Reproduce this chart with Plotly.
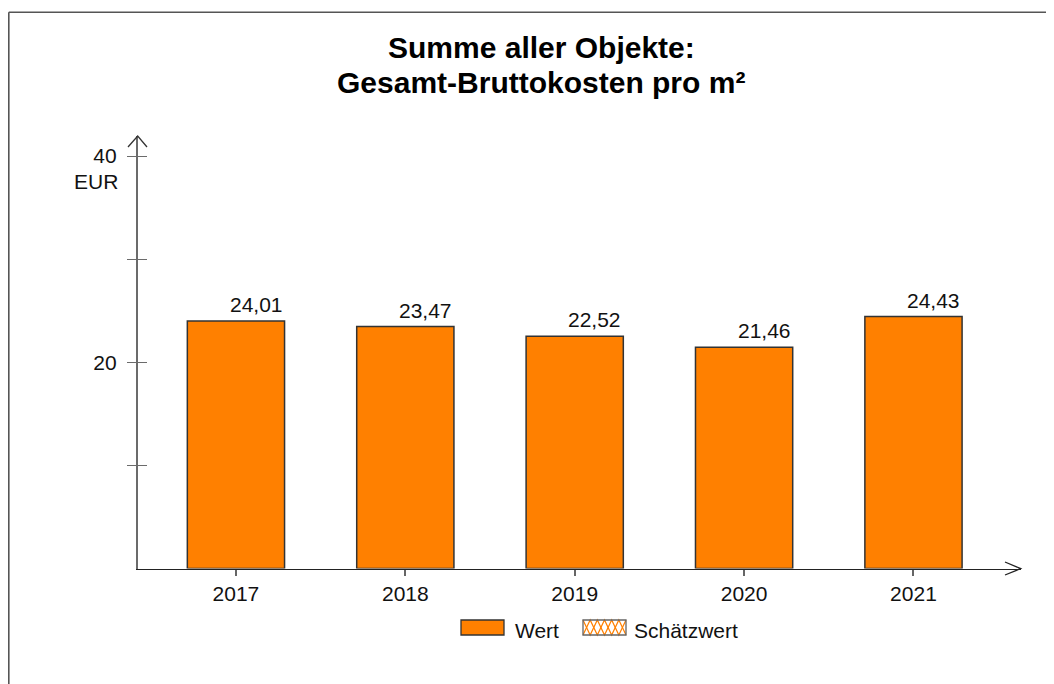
import plotly.graph_objects as go

# ---- data ----
years = ["2017", "2018", "2019", "2020", "2021"]
values = [24.01, 23.47, 22.52, 21.46, 24.43]
y_tickvals = [10, 20, 30, 40]
y_ticktext = ["", "20", "", "40"]
title_lines = ["Summe aller Objekte:", "Gesamt-Bruttokosten pro m²"]
unit_label = "EUR"
legend_labels = ["Wert", "Schätzwert"]

# the page body has an 8px default margin; work in window pixel coordinates
OFF = 8
W, H = 1054 - OFF, 684 - OFF
FONT = "Liberation Sans, Arial, sans-serif"
ORANGE = "#FF8000"
BAR_W = 0.574
FS = 21

def px(x):
    return (x - OFF) / W

def py(y):
    return 1 - (y - OFF) / H

fig = go.Figure()
fig.add_trace(go.Bar(
    x=years, y=values, width=BAR_W,
    marker=dict(color=ORANGE, line=dict(color="#333333", width=1.5)),
    showlegend=False, hoverinfo="x+y",
))

# value labels, right-aligned to the bar's right edge
for i, v in enumerate(values):
    fig.add_annotation(
        x=i + BAR_W / 2, y=v, xref="x", yref="y",
        text=f"{v:.2f}".replace(".", ","),
        showarrow=False, xanchor="right", yanchor="bottom", yshift=3,
        font=dict(family=FONT, size=FS, color="#111111"),
    )

x_dom = [px(137.7), px(1020.7)]
y_dom = [py(568.6), py(136)]
y_range = [0, 41.94]

fig.update_layout(
    width=W, height=H,
    margin=dict(l=0, r=0, t=0, b=0),
    paper_bgcolor="white", plot_bgcolor="white",
    font=dict(family=FONT, size=FS, color="#111111"),
    xaxis=dict(
        domain=x_dom, range=[-0.58, 4.633], type="category",
        showline=True, linecolor="#222222", linewidth=1.2,
        ticks="outside", ticklen=6, tickcolor="#666666", tickwidth=1.5,
        tickfont=dict(family=FONT, size=FS, color="#111111"),
        showgrid=False, zeroline=False, fixedrange=True,
    ),
    yaxis=dict(
        domain=y_dom, range=y_range,
        showline=True, linecolor="#6b6b6b", linewidth=1.6,
        tickvals=y_tickvals, ticktext=y_ticktext,
        ticks="outside", ticklen=9, tickcolor="#6b6b6b", tickwidth=1.3,
        tickfont=dict(family=FONT, size=FS, color="#111111"),
        ticklabelstandoff=6,
        showgrid=False, zeroline=False, fixedrange=True,
    ),
    yaxis2=dict(
        domain=y_dom, range=y_range, overlaying="y", anchor="x",
        tickvals=y_tickvals, showticklabels=False,
        ticks="inside", ticklen=9, tickcolor="#6b6b6b", tickwidth=1.3,
        showline=False, showgrid=False, zeroline=False, fixedrange=True,
    ),
    showlegend=False,
)

# invisible trace so yaxis2 renders its ticks
fig.add_trace(go.Scatter(x=[years[0]], y=[0], yaxis="y2", mode="markers",
                         marker=dict(opacity=0), showlegend=False, hoverinfo="skip"))

# title (two lines)
for line, yc in zip(title_lines, [48, 82.5]):
    fig.add_annotation(x=px(541), y=py(yc), xref="paper", yref="paper",
                       text="<b>" + line + "</b>", showarrow=False,
                       xanchor="center", yanchor="middle",
                       font=dict(family=FONT, size=30, color="#000000"))

# unit label
fig.add_annotation(x=px(120), y=py(181), xref="paper", yref="paper",
                   text=unit_label, showarrow=False, xanchor="right", yanchor="middle",
                   font=dict(family=FONT, size=FS, color="#111111"))

shapes = []
# frame lines
shapes.append(dict(type="line", xref="paper", yref="paper", x0=px(8.8), y0=py(12.3),
                   x1=px(1054), y1=py(12.3), line=dict(color="#555555", width=1.6)))
shapes.append(dict(type="line", xref="paper", yref="paper", x0=px(8.8), y0=py(12.3),
                   x1=px(8.8), y1=py(684), line=dict(color="#555555", width=1.6)))
# arrow heads
shapes.append(dict(type="path", xref="paper", yref="paper",
                   path=f"M {px(128)} {py(147)} L {px(137.7)} {py(136)} L {px(147)} {py(147)}",
                   line=dict(color="#333333", width=1.3)))
shapes.append(dict(type="path", xref="paper", yref="paper",
                   path=f"M {px(1005)} {py(562)} L {px(1020.7)} {py(568.6)} L {px(1005)} {py(575)}",
                   line=dict(color="#222222", width=1.3)))

# legend: Wert
shapes.append(dict(type="rect", xref="paper", yref="paper",
                   x0=px(461), x1=px(504), y0=py(635), y1=py(620),
                   fillcolor=ORANGE, line=dict(color="#333333", width=1.3)))
fig.add_annotation(x=px(513), y=py(630), xref="paper", yref="paper",
                   text=legend_labels[0], showarrow=False, xanchor="left", yanchor="middle",
                   font=dict(family=FONT, size=FS, color="#111111"))
# legend: Schätzwert (hatched)
hx0, hx1, hy0, hy1 = 583, 626, 620, 635
step = (hx1 - hx0) / 6
zig1 = []
zig2 = []
for k in range(7):
    xx = hx0 + k * step
    zig1.append((xx, hy0 if k % 2 == 0 else hy1))
    zig2.append((xx, hy1 if k % 2 == 0 else hy0))
for zig in (zig1, zig2):
    path = "M " + " L ".join(f"{px(a)} {py(b)}" for a, b in zig)
    shapes.append(dict(type="path", xref="paper", yref="paper", path=path,
                       line=dict(color=ORANGE, width=1.2)))
shapes.append(dict(type="rect", xref="paper", yref="paper",
                   x0=px(hx0), x1=px(hx1), y0=py(hy1), y1=py(hy0),
                   fillcolor="rgba(0,0,0,0)", line=dict(color="#666666", width=1.3)))
fig.add_annotation(x=px(632), y=py(630), xref="paper", yref="paper",
                   text=legend_labels[1], showarrow=False, xanchor="left", yanchor="middle",
                   font=dict(family=FONT, size=FS, color="#111111"))

fig.update_layout(shapes=shapes)

fig.write_html("out.html")
